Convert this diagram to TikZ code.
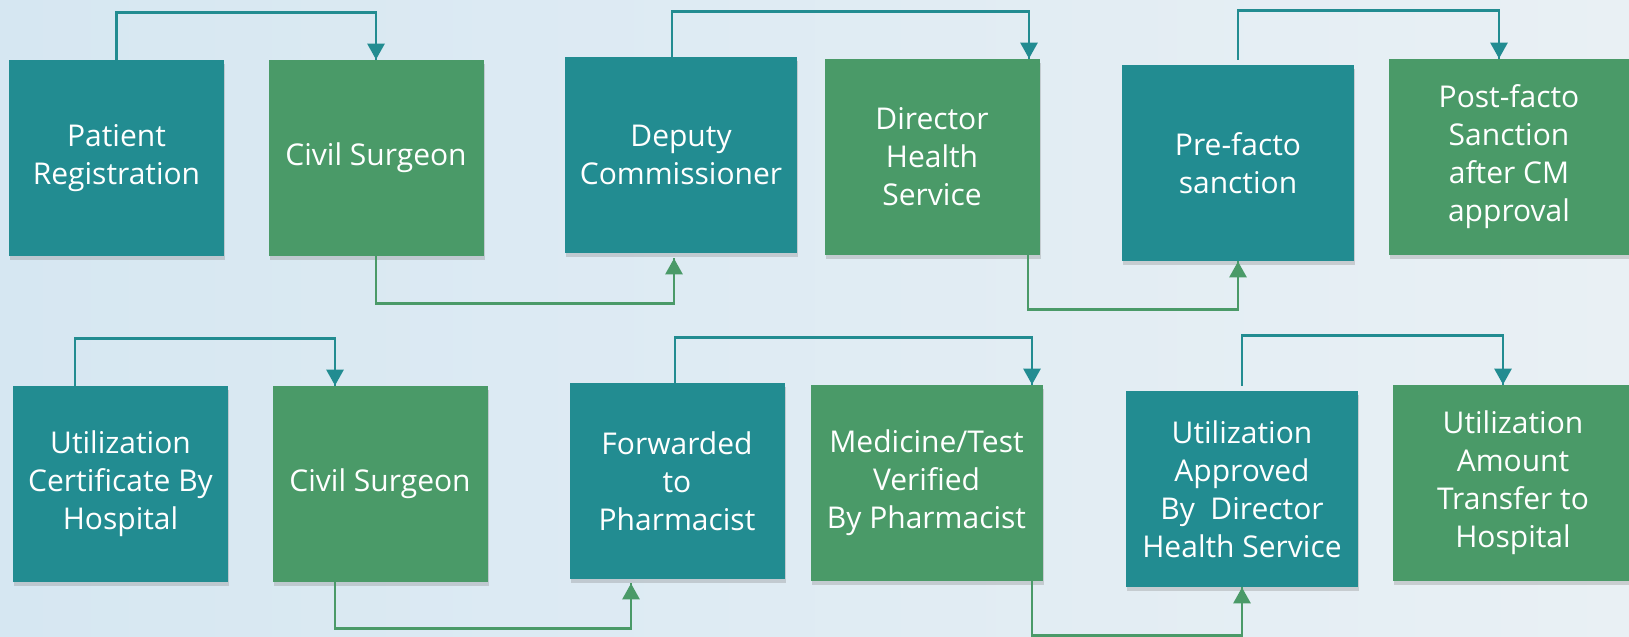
\documentclass[tikz,border=0pt]{standalone}
\usepackage{fontspec}
\setmainfont{Open Sans}
\usepackage{tikz}
\usetikzlibrary{arrows.meta}
\usetikzlibrary{decorations.markings}
\usetikzlibrary{shadows}
\definecolor{mteal}{RGB}{34, 140, 145}
\definecolor{mgreen}{RGB}{74, 154, 104}
\definecolor{bgleft}{RGB}{214, 231, 242}
\definecolor{bgright}{RGB}{233, 240, 244}
\tikzset{box/.style = {rectangle, minimum height = 98pt, inner sep = 2pt,
                       align = center, text = white,
                       font = \fontsize{15}{19}\selectfont,
                       drop shadow = {opacity = 0.3, shadow xshift = 0.6pt,
                                      shadow yshift = -2pt}}}
\tikzset{tbox/.style = {box, fill = mteal}}
\tikzset{gbox/.style = {box, fill = mgreen}}
\tikzset{slim/.style = {minimum width = 107.5pt}}
\tikzset{wide/.style = {minimum width = 116pt}}
\tikzset{flow/.style = {line width = 1.4pt,
                        decoration = {markings,
                                      mark = at position 1 with {\arrow{Triangle[width = 8.5pt, length = 8pt]}}},
                        postaction = {decorate}}}
\tikzset{tflow/.style = {flow, color = mteal}}
\tikzset{gflow/.style = {flow, color = mgreen}}

\begin{document}
\begin{tikzpicture}[x = 0.5pt, y = -0.5pt]
      \shade [left color = bgleft, right color = bgright] (0, 0) rectangle (1629, 637);
      \useasboundingbox (0, 0) rectangle (1629, 637);

      \node [tbox, slim] (pr)   at (116.5, 158) {Patient\\Registration};
      \node [gbox, slim] (cs)   at (376, 158)   {Civil Surgeon};
      \node [tbox, wide] (dc)   at (681, 155)   {Deputy\\Commissioner};
      \node [gbox, slim] (dhs)  at (932, 157)   {Director\\Health\\Service};
      \node [tbox, wide] (pre)  at (1238, 163)  {Pre-facto\\sanction};
      \node [gbox, minimum width = 120pt] (post) at (1509, 157) {Post-facto\\Sanction\\after CM\\approval};

      \node [tbox, slim] (uc)   at (120.5, 484) {Utilization\\Certificate By\\Hospital};
      \node [gbox, slim] (cs2)  at (380, 484)   {Civil Surgeon};
      \node [tbox, slim] (fwd)  at (677, 481)   {Forwarded\\to\\Pharmacist};
      \node [gbox, wide] (med)  at (926.5, 483) {Medicine/Test\\Verified\\By Pharmacist};
      \node [tbox, wide] (uap)  at (1242, 489)  {Utilization\\Approved\\By~ Director\\Health Service};
      \node [gbox, minimum width = 120pt] (uam) at (1513, 483) {Utilization\\Amount\\Transfer to\\Hospital};

      \draw [tflow] (pr.north) -- ++(0, -47) -| (cs.north);
      \draw [tflow] ([xshift = -4.5pt]dc.north) -- ++(0, -45) -| ([xshift = 48.5pt]dhs.north);
      \draw [tflow] ([yshift = 2.5pt]pre.north) -- ++(0, -49) -| ([xshift = -5pt]post.north);
      \draw [gflow] (cs.south) -- ++(0, 47) -| ([xshift = -3.5pt, yshift = -2.5pt]dc.south);
      \draw [gflow] ([xshift = 48pt]dhs.south) -- ++(0, 54) -| (pre.south);

      \draw [tflow] ([xshift = -22.75pt]uc.north) -- ++(0, -47) -| ([xshift = -22.5pt]cs2.north);
      \draw [tflow] ([xshift = -1pt]fwd.north) -- ++(0, -45) -| ([xshift = 52.75pt]med.north);
      \draw [tflow] ([yshift = 2.5pt]uap.north) -- ++(0, -50) -| ([xshift = -5pt]uam.north);
      \draw [gflow] ([xshift = -22.5pt]cs2.south) -- ++(0, 46) -| ([xshift = -23pt, yshift = -2pt]fwd.south);
      \draw [gflow] ([xshift = 52.75pt]med.south) -- ++(0, 54) -| (uap.south);
    \end{tikzpicture}
\end{document}
